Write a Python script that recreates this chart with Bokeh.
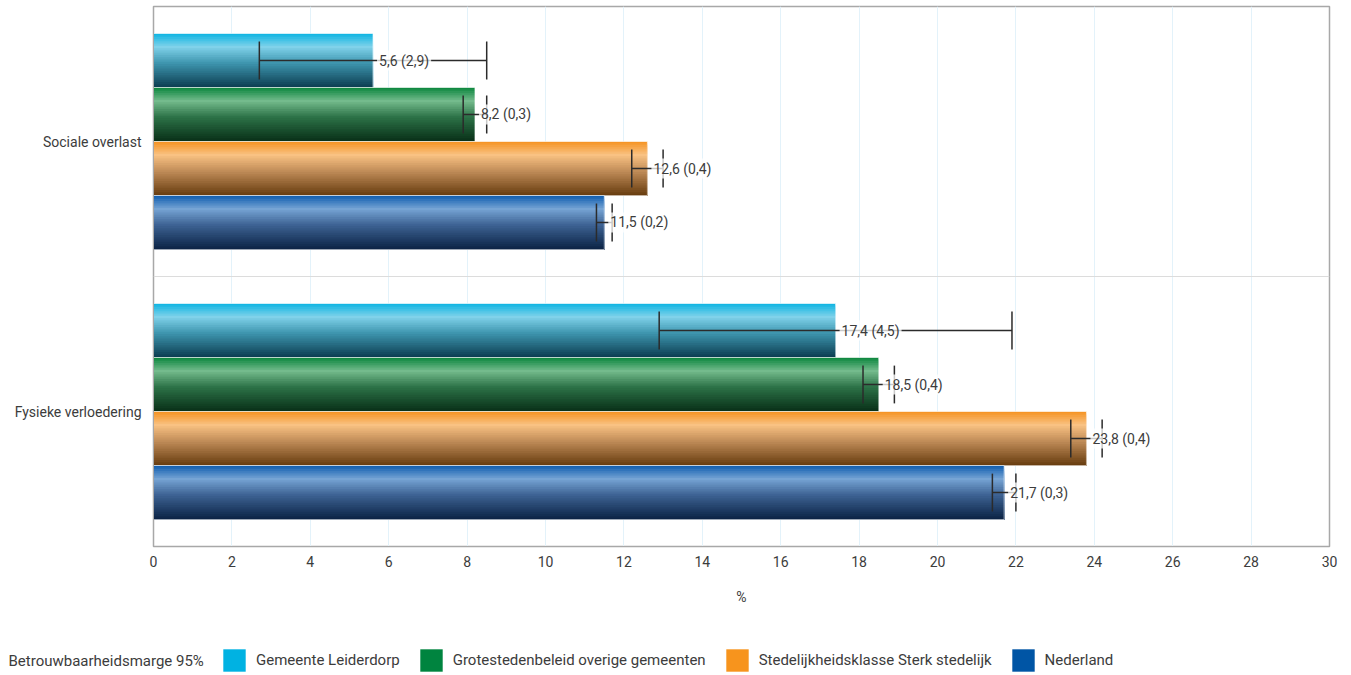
from bokeh.plotting import figure
from bokeh.layouts import column
from bokeh.models import (ColumnDataSource, FactorRange, Span, Label, Legend, LegendItem,
                          FixedTicker)
from bokeh.core.properties import value
from bokeh.transform import dodge
from bokeh.embed import file_html
from bokeh.resources import INLINE

# ---------------- data ----------------
categories = ["Sociale overlast", "Fysieke verloedering"]
series_names = ["Gemeente Leiderdorp", "Grotestedenbeleid overige gemeenten",
                "Stedelijkheidsklasse Sterk stedelijk", "Nederland"]
leiderdorp = [5.6, 17.4]
leiderdorp_ci = [2.9, 4.5]
grotesteden = [8.2, 18.5]
grotesteden_ci = [0.3, 0.4]
sterk_stedelijk = [12.6, 23.8]
sterk_stedelijk_ci = [0.4, 0.4]
nederland = [11.5, 21.7]
nederland_ci = [0.2, 0.3]
x_ticks = list(range(0, 31, 2))
ci_label = "Betrouwbaarheidsmarge 95%"
x_label = "%"

FONT = "Roboto"
TXT = "#3c3c3c"

values = [leiderdorp, grotesteden, sterk_stedelijk, nederland]
cis = [leiderdorp_ci, grotesteden_ci, sterk_stedelijk_ci, nederland_ci]
flat_colors = ["#00b2e2", "#00843f", "#f7941d", "#0055a5"]
gradients = [
    [(0, "#0cb4e2"), (0.25, "#80d2ea"), (0.55, "#3e95ae"), (1.0, "#0b3c4f")],
    [(0, "#0a853c"), (0.25, "#74bb8d"), (0.55, "#2c7247"), (1.0, "#082e17")],
    [(0, "#f59220"), (0.25, "#f9c283"), (0.55, "#c08c58"), (1.0, "#663b0e")],
    [(0, "#0e5caf"), (0.25, "#76a4d4"), (0.55, "#3d6293"), (1.0, "#0a2243")],
]
offsets = [0.3, 0.1, -0.1, -0.3]
BAR_H = 0.2


def hex2rgb(h):
    h = h.lstrip("#")
    return [int(h[i:i + 2], 16) for i in (0, 2, 4)]


def interp(stops, t):
    for (t0, c0), (t1, c1) in zip(stops[:-1], stops[1:]):
        if t0 <= t <= t1:
            f = (t - t0) / (t1 - t0)
            a, b = hex2rgb(c0), hex2rgb(c1)
            return "#%02x%02x%02x" % tuple(round(a[k] + (b[k] - a[k]) * f) for k in range(3))
    return stops[-1][1]


def fmt(v):
    return ("%.1f" % v).replace(".", ",")


def make_source(si):
    return ColumnDataSource(dict(
        cat=categories, val=values[si],
        lo=[v - c for v, c in zip(values[si], cis[si])],
        hi=[v + c for v, c in zip(values[si], cis[si])],
        lab=["%s (%s)" % (fmt(v), fmt(c)) for v, c in zip(values[si], cis[si])]))


p = figure(width=1345, height=620, output_backend="svg", toolbar_location=None,
           y_range=FactorRange(factors=categories[::-1], range_padding=0, factor_padding=0),
           x_range=(0, 30), min_border_left=153, min_border_right=16, min_border_top=6,
           min_border_bottom=74)
p.outline_line_color = "#a8a8a8"
p.outline_line_width = 1.5

p.xgrid.grid_line_color = "#e3f2fa"
p.xgrid.ticker = FixedTicker(ticks=x_ticks)
p.ygrid.grid_line_color = None
p.add_layout(Span(location=1, dimension="width", line_color="#dcdcdc", line_width=1))

N = 30
for si in range(4):
    src = make_source(si)
    off = offsets[si]
    h = BAR_H / N
    bottom = off - BAR_H / 2
    for i in range(N):
        t = (i + 0.5) / N
        top = off + BAR_H / 2 - i * h
        p.hbar(y=dodge("cat", (top + bottom) / 2, range=p.y_range), left=0, right="val",
               height=top - bottom, source=src, fill_color=interp(gradients[si], t),
               line_color=None)
    p.hbar(y=dodge("cat", off, range=p.y_range), left=0, right="val", height=BAR_H,
           source=src, fill_alpha=0, line_color="white", line_alpha=0.6, line_width=1)

for si in range(4):
    src = make_source(si)
    off = offsets[si]
    ycen = dodge("cat", off, range=p.y_range)
    p.segment(x0="lo", x1="hi", y0=ycen, y1=ycen, source=src, line_color="#2b2b2b",
              line_width=1.5)
    for col in ("lo", "hi"):
        p.segment(x0=col, x1=col, y0=dodge("cat", off - 0.07, range=p.y_range),
                  y1=dodge("cat", off + 0.07, range=p.y_range), source=src,
                  line_color="#2b2b2b", line_width=1.5)
    p.text(x="val", y=ycen, text="lab", source=src, x_offset=4, text_baseline="middle",
           text_align="left", text_font_size="14px", text_font=value(FONT), text_color=TXT,
           background_fill_color="white", background_fill_alpha=0.75, padding=2)

# axes
p.xaxis.ticker = FixedTicker(ticks=x_ticks)
p.xaxis.axis_line_color = "#a8a8a8"
p.xaxis.major_tick_line_color = None
p.xaxis.minor_tick_line_color = None
p.xaxis.major_label_text_font = FONT
p.xaxis.major_label_text_font_size = "14px"
p.xaxis.major_label_text_color = TXT
p.xaxis.major_label_standoff = 3
p.xaxis.axis_label = x_label
p.xaxis.axis_label_text_font = FONT
p.xaxis.axis_label_text_font_size = "14px"
p.xaxis.axis_label_text_font_style = "normal"
p.xaxis.axis_label_text_color = TXT
p.xaxis.axis_label_standoff = 19

p.yaxis.axis_line_color = "#a8a8a8"
p.yaxis.major_tick_line_color = None
p.yaxis.minor_tick_line_color = None
p.yaxis.major_label_text_font = FONT
p.yaxis.major_label_text_font_size = "14px"
p.yaxis.major_label_text_color = TXT
p.yaxis.major_label_standoff = 6

# legend strip (separate figure so nothing is clipped)
lg = figure(width=1345, height=54, output_backend="svg", toolbar_location=None,
            x_range=(0, 1), y_range=(0, 1), min_border=0, outline_line_color=None,
            x_axis_location=None, y_axis_location=None)
lg.frame_align = False
lg.grid.visible = False
items = []
for si in range(4):
    # zero-size legend proxy
    r = lg.quad(left=[0], right=[0], top=[0], bottom=[0], fill_color=flat_colors[si],
                line_color=None)
    items.append(LegendItem(label=series_names[si], renderers=[r]))
lg.add_layout(Label(x=8, y=14, x_units="screen", y_units="screen", text=ci_label,
                    text_font=FONT, text_font_size="15px", text_color=TXT,
                    text_baseline="middle"))
legend = Legend(items=items, orientation="horizontal", location=(220, 0),
                glyph_width=28, glyph_height=28, label_height=28, label_standoff=8,
                spacing=17, padding=0, margin=0, border_line_alpha=0,
                background_fill_alpha=0, label_text_font=FONT, label_text_font_size="15px",
                label_text_color=TXT)
lg.add_layout(legend, "center")

open("out.html", "w").write(file_html(column(p, lg, spacing=0), INLINE))
